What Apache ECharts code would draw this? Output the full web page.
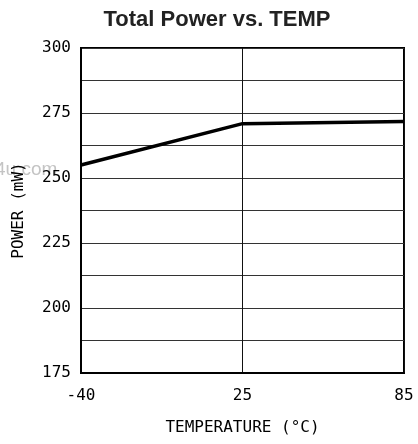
<!DOCTYPE html>
<html>
<head>
<meta charset="utf-8">
<script src="https://cdn.jsdelivr.net/npm/echarts@6/dist/echarts.min.js"></script>
<style>
  html, body { margin: 0; padding: 0; background: #fff; }
  #chart { width: 418px; height: 444px; }
</style>
</head>
<body>
<div id="chart"></div>
<script>
const temps = ["-40", "25", "85"];
const power = [255, 270.9, 271.7];

const mono = "DejaVu Sans Mono";
let chart = echarts.init(document.getElementById("chart"));
let option = {
  animation: false,
  title: {
    text: "Total Power vs. TEMP",
    left: 212,
    textAlign: "center",
    top: 4,
    textStyle: { fontFamily: "Liberation Sans", fontWeight: "bold", fontSize: 22, color: "#222" }
  },
  graphic: [
    {
      // faint watermark left of the y axis
      type: "text",
      x: -5,
      y: 170,
      z: -1,
      style: {
        text: "4u.com", fill: "#c4c4c4", font: "19px 'Liberation Sans'",
        align: "left", verticalAlign: "middle"
      }
    }
  ],
  grid: {
    left: 81, right: 14, top: 48, bottom: 71,
    show: true, borderColor: "#000", borderWidth: 2
  },
  xAxis: {
    type: "category",
    data: temps,
    boundaryGap: false,
    name: "TEMPERATURE (°C)",
    nameLocation: "middle",
    nameGap: 47,
    nameTextStyle: { fontFamily: mono, fontSize: 16, color: "#000" },
    axisLine: { lineStyle: { color: "#000", width: 2 } },
    axisTick: { show: false },
    axisLabel: { fontFamily: mono, fontSize: 16, color: "#000", margin: 15 },
    splitLine: { show: true, lineStyle: { color: "#111", width: 1 } }
  },
  yAxis: {
    type: "value",
    min: 175,
    max: 300,
    interval: 12.5,
    name: "POWER (mW)",
    nameLocation: "middle",
    nameGap: 54,
    nameTextStyle: { fontFamily: mono, fontSize: 16, color: "#000" },
    axisLine: { show: true, lineStyle: { color: "#000", width: 2 } },
    axisTick: { show: false },
    axisLabel: {
      fontFamily: mono, fontSize: 16, color: "#000", margin: 10,
      formatter: v => (v % 25 === 0 ? String(v) : "")
    },
    splitLine: { show: true, lineStyle: { color: "#333", width: 1 } }
  },
  series: [
    {
      type: "line",
      data: power,
      symbol: "none",
      lineStyle: { color: "#000", width: 3.5 }
    }
  ]
};
chart.setOption(option);
</script>
</body>
</html>
